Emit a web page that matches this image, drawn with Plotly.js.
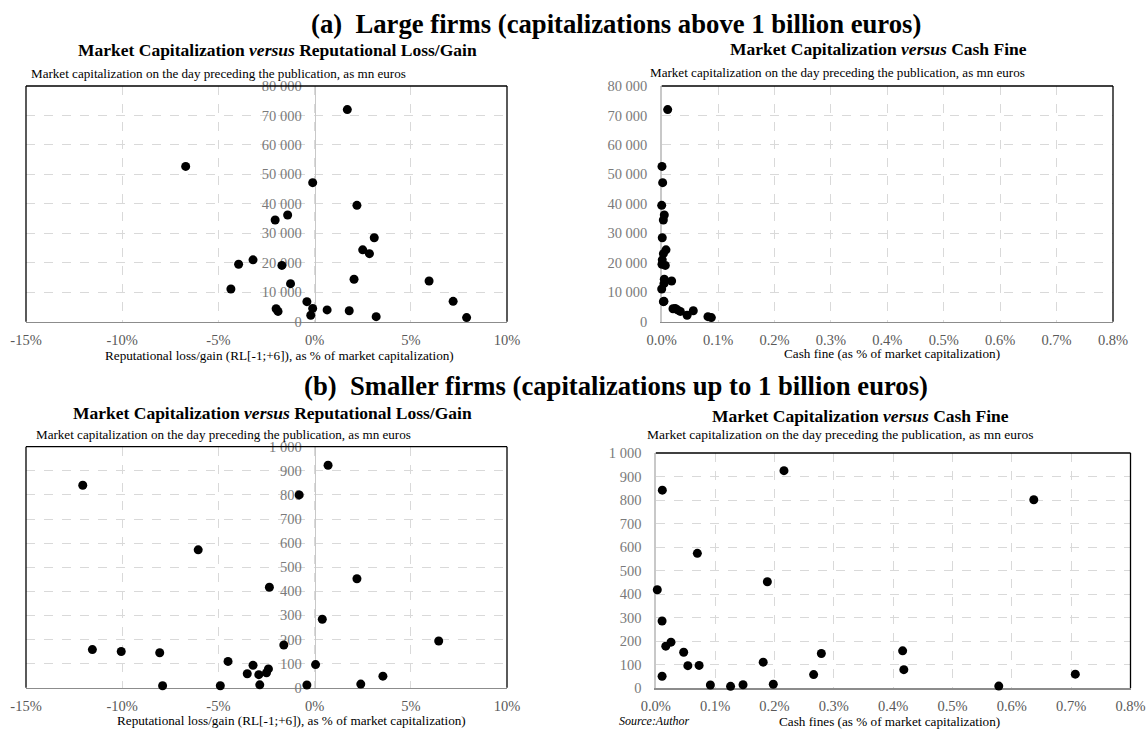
<!DOCTYPE html>
<html>
<head>
<meta charset="utf-8">
<script src="https://cdn.plot.ly/plotly-3.0.1.min.js"></script>
<style>html,body{margin:0;padding:0;background:#fff;}#chart{width:1147px;height:729px;}</style>
</head>
<body>
<div id="chart"></div>
<script>
// ---- Data ----
// (a) Large firms: reputational loss/gain (% of market cap) vs market cap (mn euros)
const largeRL = [1.7, -6.7, -0.1, 2.2, -1.4, -2.05, 3.1, 2.5, 2.85, -3.2, -3.95, -1.7, 2.05, 5.95, -1.25, -4.35, -0.4, 7.2, -2.0, -1.9, -0.1, 0.65, 1.8, -0.2, 3.2, 7.9];
const largeCapRL = [72000, 52700, 47200, 39500, 36200, 34500, 28500, 24400, 23100, 21000, 19500, 19100, 14400, 13800, 12900, 11100, 6800, 6900, 4400, 3500, 4500, 4000, 3700, 2200, 1700, 1400];
// (a) Large firms: cash fine (% of market cap) vs market cap
const largeFine = [0.0106, 0.0005, 0.0017, 0.0, 0.0046, 0.0029, 0.001, 0.0076, 0.003, 0.001, 0.0005, 0.0064, 0.0046, 0.0176, 0.004, 0.0, 0.003, 0.004, 0.02, 0.033, 0.024, 0.028, 0.056, 0.045, 0.082, 0.088];
const largeCapFine = [72000, 52700, 47200, 39500, 36200, 34500, 28500, 24400, 23100, 21000, 19500, 19100, 14400, 13800, 12900, 11100, 6800, 6900, 4400, 3500, 4500, 4000, 3700, 2200, 1700, 1400];
// (b) Smaller firms: reputational loss/gain vs market cap
const smallRL = [-12.05, 0.7, -0.8, -6.05, 2.2, -2.35, 0.4, 6.45, -1.6, -11.55, -10.05, -8.05, -4.5, -3.2, 0.05, -3.5, -2.9, -2.5, -2.4, 3.55, -7.9, -4.9, -2.85, -0.4, 2.4];
const smallCapRL = [840, 923, 800, 572, 452, 417, 284, 194, 177, 158, 150, 145, 109, 93, 96, 58, 54, 62, 78, 48, 8, 8, 12, 11, 15];
// (b) Smaller firms: cash fines vs market cap
const smallFine = [0.011, 0.216, 0.637, 0.070, 0.188, 0.0025, 0.0106, 0.0256, 0.0168, 0.047, 0.279, 0.416, 0.181, 0.054, 0.073, 0.418, 0.0106, 0.266, 0.707, 0.092, 0.126, 0.147, 0.198, 0.578];
const smallCapFine = [842, 925, 801, 573, 452, 418, 285, 195, 178, 152, 147, 158, 110, 95, 96, 78, 50, 57, 59, 13, 7, 14, 16, 8];

// ---- Tick labels ----
const rlTickVals = [-15, -10, -5, 0, 5, 10];
const rlTickText = ['-15%', '-10%', '-5%', '0%', '5%', '10%'];
const fineTickVals = [0, 0.1, 0.2, 0.3, 0.4, 0.5, 0.6, 0.7, 0.8];
const fineTickText = ['0.0%', '0.1%', '0.2%', '0.3%', '0.4%', '0.5%', '0.6%', '0.7%', '0.8%'];
const largeCapTickVals = [0, 10000, 20000, 30000, 40000, 50000, 60000, 70000, 80000];
const largeCapTickText = ['0', '10 000', '20 000', '30 000', '40 000', '50 000', '60 000', '70 000', '80 000'];
const smallCapTickVals = [0, 100, 200, 300, 400, 500, 600, 700, 800, 900, 1000];
const smallCapTickText = ['0', '100', '200', '300', '400', '500', '600', '700', '800', '900', '1 000'];

// ---- Texts ----
const titleA = '<b>(a)  Large firms (capitalizations above 1 billion euros)</b>';
const titleB = '<b>(b)  Smaller firms (capitalizations up to 1 billion euros)</b>';
const subRL = '<b>Market Capitalization <i>versus</i> Reputational Loss/Gain</b>';
const subFine = '<b>Market Capitalization <i>versus</i> Cash Fine</b>';
const yTitle = 'Market capitalization on the day preceding the publication, as mn euros';
const xTitleRL = 'Reputational loss/gain (RL[-1;+6]), as % of market capitalization)';
const xTitleFineA = 'Cash fine (as % of market capitalization)';
const xTitleFineB = 'Cash fines (as % of market capitalization)';
const sourceText = '<i>Source:Author</i>';

// ---- Layout geometry (pixels) ----
const W = 1147, H = 729;
const fx = px => px / W;
const fy = py => 1 - py / H;
const FONT = 'Liberation Serif, Times New Roman, serif';

const dom = {
  tl: {x: [26, 507], y: [86, 321.7]},
  tr: {x: [661.7, 1113], y: [86, 321.7]},
  bl: {x: [26, 507], y: [446.7, 687.7]},
  br: {x: [655.8, 1130.5], y: [453, 688]}
};
function xd(d) { return [fx(d.x[0]), fx(d.x[1])]; }
function yd(d) { return [fy(d.y[1]), fy(d.y[0])]; }

const marker = {color: '#000000', size: 9};
function sc(x, y, xa, ya) {
  return {type: 'scatter', mode: 'markers', x: x, y: y, xaxis: xa, yaxis: ya,
          marker: marker, cliponaxis: false, hoverinfo: 'x+y', showlegend: false};
}
const data = [
  sc(largeRL, largeCapRL, 'x', 'y'),
  sc(largeFine, largeCapFine, 'x2', 'y2'),
  sc(smallRL, smallCapRL, 'x3', 'y3'),
  sc(smallFine, smallCapFine, 'x4', 'y4')
];

const tickFontX = {family: FONT, size: 14.5, color: '#595959'};
const tickFontY = {family: FONT, size: 14.5, color: '#7a7a7a'};
const GRID = '#d9d9d9';

function xAxis(d, anchor, vals, text, range) {
  return {domain: xd(d), anchor: anchor, range: range, tickvals: vals, ticktext: text,
          tickfont: tickFontX, showgrid: true, gridcolor: GRID, griddash: 'dash', gridwidth: 1,
          zeroline: false, showline: true, linecolor: '#8c8c8c', linewidth: 1.5,
          ticks: '', layer: 'below traces', fixedrange: true, ticklabelstandoff: 4};
}
function yAxis(d, anchor, vals, text, range, pos) {
  const a = {domain: yd(d), anchor: anchor, range: range, tickvals: vals, ticktext: text,
          tickfont: tickFontY, showgrid: true, gridcolor: GRID, griddash: 'dash', gridwidth: 1,
          zeroline: false, showline: true, linecolor: '#c8c8c8', linewidth: 1.5,
          ticks: '', layer: 'below traces', fixedrange: true, ticklabelstandoff: 10};
  if (pos !== undefined) { a.anchor = 'free'; a.position = pos; }
  return a;
}
// y-axis of left panels crosses at 0% (x range -15..10)
const posTL = fx(dom.tl.x[0]) + (0 - (-15)) / 25 * (fx(dom.tl.x[1]) - fx(dom.tl.x[0]));
const posBL = fx(dom.bl.x[0]) + (0 - (-15)) / 25 * (fx(dom.bl.x[1]) - fx(dom.bl.x[0]));

function border(xa, ya, withLeft) {
  const s = [];
  const base = {xref: xa + ' domain', yref: ya + ' domain', line: {color: '#000', width: 1.3}, layer: 'above', type: 'line'};
  s.push(Object.assign({}, base, {x0: 0, x1: 1, y0: 1, y1: 1}));
  s.push(Object.assign({}, base, {x0: 1, x1: 1, y0: 0, y1: 1}));
  if (withLeft) s.push(Object.assign({}, base, {x0: 0, x1: 0, y0: 0, y1: 1}));
  return s;
}

function ann(text, px, py, size, anchor, color) {
  return {text: text, xref: 'paper', yref: 'paper', x: fx(px), y: fy(py), xanchor: anchor || 'center',
          yanchor: 'middle', showarrow: false, font: {family: FONT, size: size, color: color || '#000'}};
}

const layout = {
  width: W, height: H,
  margin: {l: 0, r: 0, t: 0, b: 0, pad: 0},
  paper_bgcolor: '#ffffff', plot_bgcolor: '#ffffff',
  font: {family: FONT},
  showlegend: false,
  xaxis: xAxis(dom.tl, 'y', rlTickVals, rlTickText, [-15, 10]),
  yaxis: yAxis(dom.tl, 'x', largeCapTickVals, largeCapTickText, [0, 80000], posTL),
  xaxis2: xAxis(dom.tr, 'y2', fineTickVals, fineTickText, [0, 0.8]),
  yaxis2: yAxis(dom.tr, 'x2', largeCapTickVals, largeCapTickText, [0, 80000]),
  xaxis3: xAxis(dom.bl, 'y3', rlTickVals, rlTickText, [-15, 10]),
  yaxis3: yAxis(dom.bl, 'x3', smallCapTickVals, smallCapTickText, [0, 1000], posBL),
  xaxis4: xAxis(dom.br, 'y4', fineTickVals, fineTickText, [0, 0.8]),
  yaxis4: yAxis(dom.br, 'x4', smallCapTickVals, smallCapTickText, [0, 1000]),
  shapes: [].concat(border('x', 'y', true), border('x2', 'y2', false), border('x3', 'y3', true), border('x4', 'y4', false)),
  annotations: [
    ann(titleA, 616, 24, 26.7),
    ann(titleB, 616, 386, 26.7),
    ann(subRL, 277, 50, 17.5),
    ann(subFine, 878, 49.5, 17.5),
    ann(subRL, 272, 412.5, 17.5),
    ann(subFine, 860, 415.5, 17.5),
    ann(yTitle, 29, 73.5, 13.1, 'left'),
    ann(yTitle, 837, 72, 13.1),
    ann(yTitle, 34, 435, 13.1, 'left'),
    ann(yTitle, 840, 435, 13.5),
    ann(xTitleRL, 279, 356, 13.2),
    ann(xTitleFineA, 892, 353.5, 13.2),
    ann(xTitleRL, 291.5, 720, 13.2),
    ann(xTitleFineB, 889, 721, 13.2),
    ann(sourceText, 617, 721, 12, 'left')
  ]
};

Plotly.newPlot('chart', data, layout, {displayModeBar: false, staticPlot: true});
</script>
</body>
</html>
